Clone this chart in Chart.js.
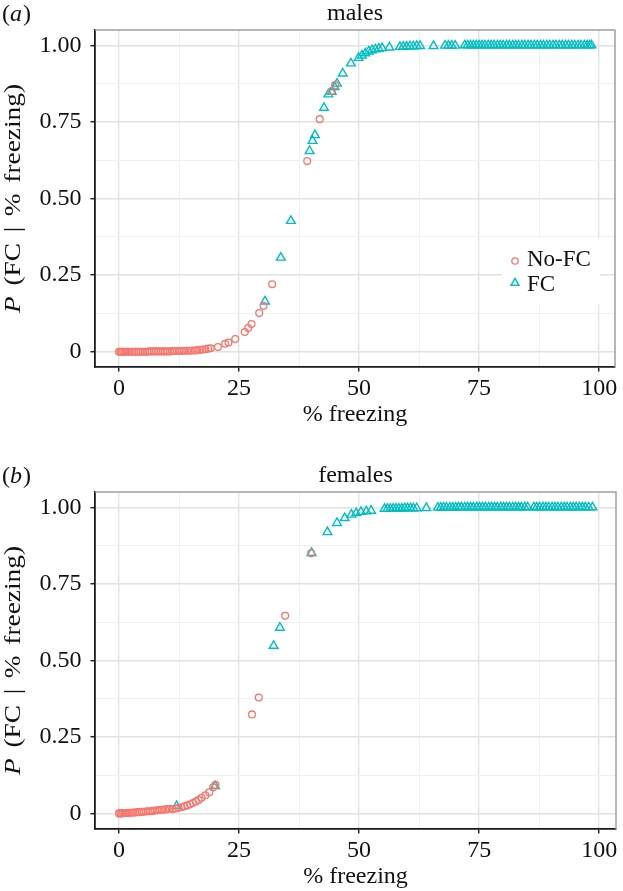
<!DOCTYPE html>
<html>
<head>
<meta charset="utf-8">
<title>P (FC | % freezing)</title>
<script src="https://cdn.jsdelivr.net/npm/chart.js@4.4.1/dist/chart.umd.min.js"></script>
<style>
  html, body { margin: 0; padding: 0; background: #fff; }
  canvas { display: block; }
</style>
</head>
<body>
<canvas id="malesChart" width="623" height="445"></canvas>
<canvas id="femalesChart" width="623" height="446"></canvas>
<script>
// --- data (x = % freezing, y = P(FC | % freezing)) ---
var malesNoFcX = [0.0, 0.3, 0.6, 0.9, 1.3, 1.6, 2.0, 2.4, 2.8, 3.2, 3.6, 4.1, 4.5, 5.0, 5.4, 5.9, 6.3, 6.8, 7.3, 7.7,
                  8.2, 8.7, 9.2, 9.6, 10.1, 10.6, 11.1, 11.6, 12.1, 12.6, 13.1, 13.6, 14.2, 14.7, 15.2, 15.8, 16.3, 16.9, 17.4, 18.0,
                  18.6, 19.1, 20.6, 22.1, 22.8, 24.2, 26.2, 26.9, 27.6, 29.2, 30.1, 31.9, 39.2, 41.8, 44.3, 45.0];
var malesNoFcY = [0.000, 0.000, 0.000, 0.000, 0.000, 0.000, 0.000, 0.000, 0.000, 0.000, 0.000, 0.000, 0.000, 0.000, 0.000, 0.000, 0.001, 0.001, 0.001, 0.001,
                  0.001, 0.001, 0.001, 0.001, 0.001, 0.001, 0.002, 0.002, 0.002, 0.002, 0.002, 0.003, 0.003, 0.003, 0.004, 0.004, 0.005, 0.006, 0.007, 0.008,
                  0.010, 0.011, 0.015, 0.026, 0.030, 0.041, 0.064, 0.077, 0.090, 0.126, 0.150, 0.220, 0.622, 0.759, 0.851, 0.870];

var malesFcX = [30.4, 33.7, 35.8, 39.7, 40.3, 40.8, 42.7, 43.6, 44.3, 44.9, 45.4, 46.6, 48.3, 49.9, 50.6, 51.3, 52.0, 52.7, 53.4, 54.1,
                54.8, 56.3, 58.5, 59.2, 59.9, 60.6, 61.3, 62.0, 62.7, 65.5, 67.9, 68.6, 69.3, 70.0,
                72.0, 72.6, 73.2, 73.8, 74.4, 75.0, 75.6, 76.2, 76.9, 77.5, 78.1, 78.8, 79.4, 80.0, 80.7, 81.3, 82.0, 82.6, 83.2, 83.9,
                84.5, 85.2, 85.8, 86.5, 87.1, 87.8, 88.4, 89.1, 89.7, 90.4, 91.0, 91.7, 92.3, 93.0, 93.6, 94.3, 94.9, 95.6, 96.2, 96.9,
                97.5, 98.0, 98.4];
var malesFcY = [0.164, 0.307, 0.427, 0.655, 0.688, 0.707, 0.796, 0.840, 0.848, 0.864, 0.875, 0.908, 0.941, 0.959, 0.967, 0.974, 0.980, 0.984, 0.987, 0.989,
                0.991, 0.993, 0.995, 0.996, 0.996, 0.997, 0.997, 0.998, 0.998, 0.998, 0.999, 0.999, 0.999, 0.999,
                1.000, 1.000, 1.000, 1.000, 1.000, 1.000, 1.000, 1.000, 1.000, 1.000, 1.000, 1.000, 1.000, 1.000, 1.000, 1.000, 1.000, 1.000, 1.000, 1.000,
                1.000, 1.000, 1.000, 1.000, 1.000, 1.000, 1.000, 1.000, 1.000, 1.000, 1.000, 1.000, 1.000, 1.000, 1.000, 1.000, 1.000, 1.000, 1.000, 1.000,
                1.000, 1.000, 1.000];

var femalesNoFcX = [0.0, 0.3, 0.6, 0.9, 1.2, 1.5, 1.8, 2.2, 2.6, 3.0, 3.4, 3.8, 4.2, 4.7, 5.1, 5.6, 6.0, 6.5, 7.0, 7.5,
                    8.0, 8.5, 9.0, 9.6, 10.1, 10.6, 11.2, 11.8, 12.4, 13.0, 13.6, 14.2, 14.8, 15.4, 16.0, 16.6, 17.2, 18.0, 18.8, 19.6,
                    20.1, 27.7, 29.1, 34.6, 40.0];
var femalesNoFcY = [0.001, 0.001, 0.001, 0.002, 0.002, 0.002, 0.002, 0.003, 0.003, 0.004, 0.004, 0.005, 0.005, 0.006, 0.006, 0.007, 0.008, 0.008, 0.009, 0.010,
                    0.011, 0.012, 0.013, 0.014, 0.015, 0.016, 0.015, 0.017, 0.019, 0.021, 0.024, 0.027, 0.031, 0.035, 0.040, 0.045, 0.052, 0.060, 0.070, 0.086,
                    0.094, 0.324, 0.379, 0.646, 0.850];

var femalesFcX = [12.0, 20.0, 32.2, 33.5, 40.1, 43.4, 45.4, 47.0, 48.4, 49.4, 50.4, 51.5, 52.5,
                  55.3, 55.9, 56.5, 57.1, 57.7, 58.3, 58.9, 59.5, 60.1, 60.7, 61.3, 62.0, 64.0,
                  66.4, 67.0, 67.6, 68.2, 68.9, 69.5, 70.1, 70.7, 71.3, 72.0, 72.6, 73.2, 73.8, 74.5, 75.1, 75.7, 76.3, 77.0, 77.6, 78.2,
                  78.8, 79.5, 80.1, 80.7, 81.3, 82.0, 82.6, 83.2, 83.8, 84.5, 85.1, 86.4, 87.0, 87.6, 88.3, 88.9, 89.5, 90.2, 90.8, 91.4,
                  92.1, 92.7, 93.3, 94.0, 94.6, 95.2, 95.9, 96.5, 97.1, 97.8, 98.6];
var femalesFcY = [0.025, 0.090, 0.548, 0.607, 0.851, 0.919, 0.949, 0.965, 0.976, 0.981, 0.985, 0.987, 0.989,
                  0.995, 0.995, 0.995, 0.996, 0.996, 0.996, 0.996, 0.997, 0.997, 0.997, 0.997, 0.997, 0.998,
                  0.999, 0.999, 0.999, 0.999, 0.999, 0.999, 0.999, 1.000, 1.000, 1.000, 1.000, 1.000, 1.000, 1.000, 1.000, 1.000, 1.000, 1.000, 1.000, 1.000,
                  1.000, 1.000, 1.000, 1.000, 1.000, 1.000, 1.000, 1.000, 1.000, 1.000, 1.000, 1.000, 1.000, 1.000, 1.000, 1.000, 1.000, 1.000, 1.000, 1.000,
                  1.000, 1.000, 1.000, 1.000, 1.000, 1.000, 1.000, 1.000, 1.000, 1.000, 1.000];

var xTicks = [0, 25, 50, 75, 100];
var yTicks = [0, 0.25, 0.5, 0.75, 1];
var yTickText = ['0', '0.25', '0.50', '0.75', '1.00'];
var seriesNames = ['No-FC', 'FC'];

var SERIF = '"Liberation Serif"';
var RED = '#F8766D';
var TEAL = '#00BFC4';

function toPoints(xs, ys) {
    return xs.map(function(x, i) { return { x: x, y: ys[i] }; });
}

function findTick(list, v) {
    for (var i = 0; i < list.length; i++) {
        if (Math.abs(list[i] - v) < 1e-6) return i;
    }
    return -1;
}

// --- draws the bits ggplot has and Chart.js doesn't: panel border, tag, title, y title, legend ---
var panelDecor = {
    id: 'panelDecor',
    afterDraw: function(chart, args, opts) {
        var ctx = chart.ctx;
        var a = chart.chartArea;
        ctx.save();

        // grey top/right edge of the panel
        ctx.strokeStyle = '#a0a0a0';
        ctx.lineWidth = 1.5;
        ctx.beginPath();
        ctx.moveTo(a.left, a.top);
        ctx.lineTo(a.right, a.top);
        ctx.lineTo(a.right, a.bottom);
        ctx.stroke();

        ctx.fillStyle = '#111';
        ctx.textBaseline = 'alphabetic';

        // panel tag "(a)" with italic letter
        var x = 2;
        ctx.textAlign = 'left';
        ctx.font = '24px ' + SERIF;
        ctx.fillText('(', x, opts.titleBase + 1);
        x += ctx.measureText('(').width;
        ctx.font = 'italic 24px ' + SERIF;
        ctx.fillText(opts.tag, x, opts.titleBase + 1);
        x += ctx.measureText(opts.tag).width + 1;
        ctx.font = '24px ' + SERIF;
        ctx.fillText(')', x, opts.titleBase + 1);

        // title
        ctx.textAlign = 'center';
        ctx.fillText(opts.title, (a.left + a.right) / 2, opts.titleBase);

        drawYTitle(ctx, 20, (a.top + a.bottom) / 2);

        if (opts.legend) drawLegend(ctx, chart);
        ctx.restore();
    }
};

function drawYTitle(ctx, cx, cy) {
    var parts = [
        { t: 'P', font: 'italic 23px ' + SERIF },
        { t: '(FC', font: '23px ' + SERIF },
        { t: '|', font: '23px ' + SERIF },
        { t: '%', font: '23px ' + SERIF },
        { t: 'freezing)', font: '23px ' + SERIF }
    ];
    var gap = 9, total = 0;
    parts.forEach(function(p) {
        ctx.font = p.font;
        p.w = ctx.measureText(p.t).width;
        total += p.w;
    });
    total += gap * (parts.length - 1);
    var s = 229 / total; // figure is a little stretched along y
    ctx.save();
    ctx.translate(cx, cy);
    ctx.rotate(-Math.PI / 2);
    ctx.scale(s, 1);
    ctx.textAlign = 'left';
    var x = -total / 2;
    parts.forEach(function(p) {
        ctx.font = p.font;
        ctx.fillText(p.t, x, 0);
        x += p.w + gap;
    });
    ctx.restore();
}

function drawLegend(ctx, chart) {
    ctx.fillStyle = '#fff';
    ctx.fillRect(502, 238, 98, 66);

    var rows = [{ y: 261, ty: 266 }, { y: 283, ty: 291 }];
    chart.data.datasets.forEach(function(ds, i) {
        var r = rows[i];
        ctx.strokeStyle = ds.borderColor;
        ctx.lineWidth = ds.borderWidth;
        ctx.beginPath();
        if (ds.pointStyle === 'circle') {
            ctx.arc(515, r.y, 3.2, 0, Math.PI * 2);
        } else {
            var rad = 4.6;
            ctx.moveTo(515, r.y - rad);
            ctx.lineTo(515 + rad * 0.866, r.y + rad / 2);
            ctx.lineTo(515 - rad * 0.866, r.y + rad / 2);
            ctx.closePath();
        }
        ctx.stroke();
        ctx.fillStyle = '#111';
        ctx.font = '23px ' + SERIF;
        ctx.textAlign = 'left';
        ctx.fillText(ds.label, 527, r.ty);
    });
}

function makePanel(p) {
    return new Chart(document.getElementById(p.id), {
        type: 'scatter',
        data: {
            datasets: [
                { label: seriesNames[0], data: toPoints(p.noX, p.noY), pointStyle: 'circle', pointRadius: 3.4,
                  borderColor: RED, backgroundColor: 'rgba(0,0,0,0)', borderWidth: 1.3 },
                { label: seriesNames[1], data: toPoints(p.fcX, p.fcY), pointStyle: 'triangle', pointRadius: 5,
                  borderColor: TEAL, backgroundColor: 'rgba(0,0,0,0)', borderWidth: 1.4 }
            ]
        },
        options: {
            responsive: false,
            animation: false,
            devicePixelRatio: 1,
            layout: { padding: { top: p.padTop, right: p.padRight, left: 0, bottom: 0 } },
            plugins: {
                legend: { display: false },
                tooltip: { enabled: false },
                panelDecor: { tag: p.tag, title: p.title, titleBase: p.titleBase, legend: p.legend }
            },
            scales: {
                x: {
                    type: 'linear',
                    min: -5,
                    max: p.xMax,
                    afterFit: function(scale) { scale.height = p.xAxisH; },
                    ticks: {
                        stepSize: 12.5,
                        includeBounds: false,
                        autoSkip: false,
                        maxRotation: 0,
                        maxTicksLimit: 20,
                        padding: 3,
                        color: '#111',
                        font: { family: SERIF, size: 24 },
                        callback: function(v) {
                            var i = findTick(xTicks, v);
                            return i >= 0 ? String(xTicks[i]) : '';
                        }
                    },
                    grid: {
                        color: function(c) { return findTick(xTicks, c.tick.value) >= 0 ? '#e2e2e2' : '#eeeeee'; },
                        lineWidth: function(c) { return findTick(xTicks, c.tick.value) >= 0 ? 1.4 : 0.9; },
                        tickColor: function(c) { return findTick(xTicks, c.tick.value) >= 0 ? '#222' : 'rgba(0,0,0,0)'; },
                        tickLength: 4.5,
                        tickWidth: 1.5
                    },
                    border: { display: true, color: '#1a1a1a', width: 1.8 },
                    title: {
                        display: true,
                        text: '% freezing',
                        color: '#111',
                        font: { family: SERIF, size: 24, lineHeight: 1 },
                        padding: { top: 0, bottom: p.titlePad }
                    }
                },
                y: {
                    type: 'linear',
                    min: -0.05,
                    max: 1.05,
                    afterFit: function(scale) { scale.width = 95; },
                    ticks: {
                        stepSize: 0.125,
                        includeBounds: false,
                        autoSkip: false,
                        maxTicksLimit: 20,
                        padding: 9,
                        color: '#111',
                        font: { family: SERIF, size: 24 },
                        callback: function(v) {
                            var i = findTick(yTicks, v);
                            return i >= 0 ? yTickText[i] : '';
                        }
                    },
                    grid: {
                        color: function(c) { return findTick(yTicks, c.tick.value) >= 0 ? '#e2e2e2' : '#eeeeee'; },
                        lineWidth: function(c) { return findTick(yTicks, c.tick.value) >= 0 ? 1.4 : 0.9; },
                        tickColor: function(c) { return findTick(yTicks, c.tick.value) >= 0 ? '#222' : 'rgba(0,0,0,0)'; },
                        tickLength: 4.5,
                        tickWidth: 1.5
                    },
                    border: { display: true, color: '#1a1a1a', width: 1.8 }
                }
            }
        },
        plugins: [panelDecor]
    });
}

makePanel({ id: 'malesChart', tag: 'a', title: 'males', noX: malesNoFcX, noY: malesNoFcY, fcX: malesFcX, fcY: malesFcY,
            padTop: 30, padRight: 8, xAxisH: 78, xMax: 103.3, titleBase: 20, titlePad: 18, legend: true });
makePanel({ id: 'femalesChart', tag: 'b', title: 'females', noX: femalesNoFcX, noY: femalesNoFcY, fcX: femalesFcX, fcY: femalesFcY,
            padTop: 47, padRight: 7, xAxisH: 62, xMax: 103.5, titleBase: 37, titlePad: 2, legend: false });
</script>
</body>
</html>
